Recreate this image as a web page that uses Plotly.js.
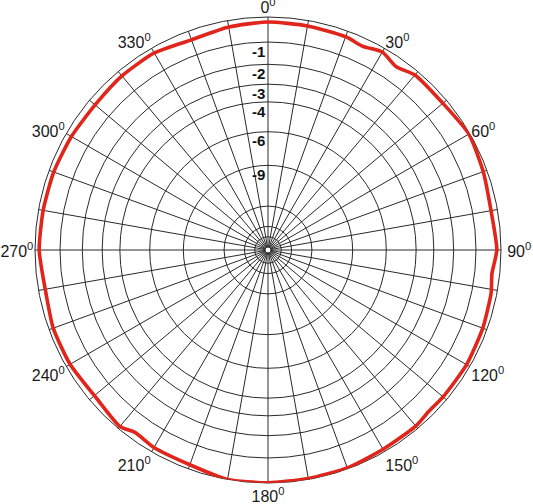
<!DOCTYPE html>
<html>
<head>
<meta charset="utf-8">
<script src="https://cdn.plot.ly/plotly-3.0.1.min.js"></script>
<style>
  html, body { margin: 0; padding: 0; background: #fff; }
  #plot { width: 533px; height: 504px; }
</style>
</head>
<body>
<div id="plot"></div>
<script>
// measured pattern, gain in dB relative to max, angle in degrees (0 = top, clockwise)
const angles = [0, 10, 20, 25, 30, 35, 40, 50, 60, 70, 80, 90, 96, 101, 110, 120, 130, 135, 140,
    150, 160, 170, 180, 190, 200, 210, 216, 220, 229, 240, 250, 259, 270, 280, 290, 300,
    310, 320, 330, 340, 350, 360];
const gainDb = [-0.19, -0.21, -0.23, -0.32, -0.17, -0.36, -0.17, -0.18, -0.04, -0.15, -0.25, -0.16,
    -0.30, -0.22, -0.17, -0.14, -0.17, -0.20, -0.12, -0.11, -0.04, -0.04, -0.01, 0.0, -0.17,
    -0.19, -0.28, -0.10, -0.24, -0.17, -0.17, -0.26, -0.16, -0.18, -0.19, -0.23, -0.28, -0.22,
    -0.21, -0.36, -0.25, -0.19];

// radial grid circles in dB, and the ones that carry a label
const ringDb = [-1, -2, -3, -4, -6, -9, -15, -21, -27];
const labelDb = [-1, -2, -3, -4, -6, -9];
const labelText = ['-1', '-2', '-3', '-4', '-6', '-9'];

// angular grid every 10 deg, labels every 30 deg
const spokeAngles = [0, 10, 20, 30, 40, 50, 60, 70, 80, 90, 100, 110, 120, 130, 140, 150, 160, 170,
    180, 190, 200, 210, 220, 230, 240, 250, 260, 270, 280, 290, 300, 310, 320, 330, 340, 350];
const labelAngles = [0, 30, 60, 90, 120, 150, 180, 210, 240, 270, 300, 330];
const angleText = ['0', '30', '60', '\u00a090', '120', '150', '180', '210', '240', '270', '300', '330']
    .map(s => s + '<sup>0</sup>');

// amplitude scale: r = 10^(dB/20)
const toAmp = db => Math.pow(10, db / 20);

const R_PX = 233;             // outer circle radius in px
const HOLE = 0.013;
const labelShift = 10 / R_PX; // labels sit a little below their circle

const traces = [
    {   // keeps the grid subplot alive
        type: 'scatterpolar',
        subplot: 'polar',
        r: [],
        theta: [],
        mode: 'lines',
        hoverinfo: 'skip'
    },
    {
        type: 'scatterpolar',
        subplot: 'polar2',
        r: gainDb.map(toAmp),
        theta: angles,
        mode: 'lines',
        line: { color: '#e1251b', width: 3.6, shape: 'spline', smoothing: 0.6 },
        hoverinfo: 'skip'
    },
    {   // angle labels layer
        type: 'scatterpolar',
        subplot: 'polar3',
        r: [],
        theta: [],
        mode: 'lines',
        hoverinfo: 'skip'
    }
];

const domX = [(268 - R_PX) / 533, (268 + R_PX) / 533];
const domY = [1 - (250 + R_PX) / 504, 1 - (250 - R_PX) / 504];
// angle labels: a slightly smaller, lower circle keeps the top and bottom ones on the page
const R3 = 231;
const domX3 = [(268 - R3) / 533, (268 + R3) / 533];
const domY3 = [1 - (251 + R3) / 504, 1 - (251 - R3) / 504];

const layout = {
    width: 533,
    height: 504,
    margin: { l: 0, r: 0, t: 0, b: 0 },
    paper_bgcolor: '#ffffff',
    showlegend: false,
    font: { family: 'Arial, Liberation Sans, sans-serif', color: '#1a1a1a' },
    polar: {
        domain: { x: domX, y: domY },
        bgcolor: '#ffffff',
        hole: HOLE,
        radialaxis: {
            range: [0, 1],
            tickmode: 'array',
            tickvals: ringDb.map(toAmp),
            showticklabels: false,
            ticks: '',
            showline: false,
            gridcolor: '#2a2a2a',
            gridwidth: 1,
            angle: 90
        },
        angularaxis: {
            rotation: 90,
            direction: 'clockwise',
            tickmode: 'array',
            tickvals: spokeAngles,
            showticklabels: false,
            ticks: '',
            gridcolor: '#2a2a2a',
            gridwidth: 1,
            linecolor: '#2a2a2a',
            linewidth: 1
        }
    },
    polar2: {
        domain: { x: domX, y: domY },
        bgcolor: 'rgba(0,0,0,0)',
        hole: HOLE,
        radialaxis: {
            range: [0, 1],
            tickmode: 'array',
            tickvals: labelDb.map(d => toAmp(d) - labelShift),
            ticktext: labelText,
            tickangle: 90,
            ticks: '',
            showline: false,
            showgrid: false,
            angle: 90,
            side: 'counterclockwise',
            tickfont: { size: 15, color: '#111111', weight: 'bold' }
        },
        angularaxis: {
            visible: false,
            rotation: 90,
            direction: 'clockwise'
        }
    },
    polar3: {
        domain: { x: domX3, y: domY3 },
        bgcolor: 'rgba(0,0,0,0)',
        radialaxis: { visible: false, range: [0, 1] },
        angularaxis: {
            rotation: 90,
            direction: 'clockwise',
            tickmode: 'array',
            tickvals: labelAngles,
            ticktext: angleText,
            ticks: '',
            showgrid: false,
            showline: true,
            linecolor: 'rgba(0,0,0,0)',
            tickfont: { size: 16, color: '#1a1a1a' }
        }
    }
};

Plotly.newPlot('plot', traces, layout, { staticPlot: true });
</script>
</body>
</html>
